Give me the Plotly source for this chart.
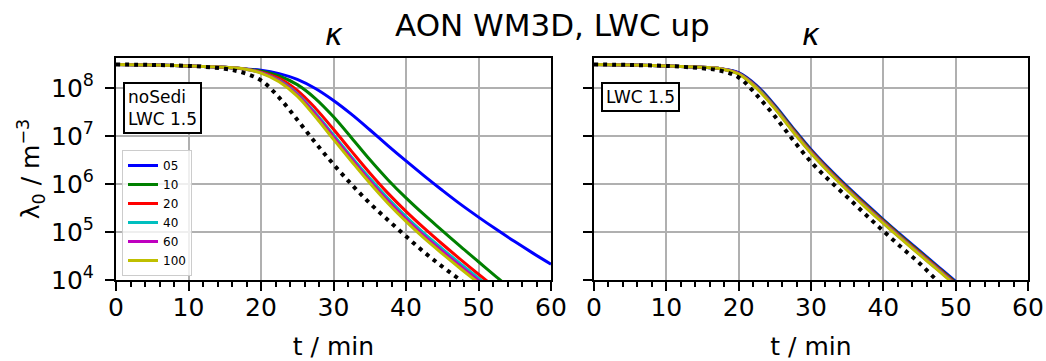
import numpy as np
import plotly.graph_objects as go

# ---------------- data (log10 of lambda_0 in m^-3) ----------------
T = [0, 5, 10, 15, 17.5, 20, 22.5, 25, 27.5, 30, 32.5, 35, 37.5, 40, 42.5, 45, 47.5, 50, 52.5, 55, 57.5, 60]

series_names = ["05", "10", "20", "40", "60", "100"]
series_colors = ["#0000ff", "#008000", "#ff0000", "#00bfbf", "#bf00bf", "#bfbf00"]

left_05 = [8.49, 8.48, 8.46, 8.43, 8.40, 8.37, 8.30, 8.18, 7.99, 7.74, 7.45, 7.13, 6.80, 6.48, 6.17, 5.87, 5.58, 5.31, 5.05, 4.80, 4.56, 4.33]
left_10 = [8.49, 8.48, 8.46, 8.43, 8.40, 8.35, 8.25, 8.07, 7.78, 7.40, 6.96, 6.51, 6.09, 5.71, 5.36, 5.03, 4.70, 4.38, 4.06, 3.75]
left_20 = [8.49, 8.48, 8.46, 8.43, 8.40, 8.33, 8.20, 7.95, 7.58, 7.14, 6.68, 6.23, 5.81, 5.43, 5.08, 4.75, 4.43, 4.12, 3.82]
left_40 = [8.49, 8.48, 8.46, 8.43, 8.40, 8.32, 8.16, 7.88, 7.48, 7.02, 6.56, 6.12, 5.70, 5.32, 4.97, 4.65, 4.34, 4.04, 3.75]
left_60 = [8.49, 8.48, 8.46, 8.43, 8.40, 8.32, 8.15, 7.86, 7.45, 6.98, 6.52, 6.07, 5.65, 5.27, 4.92, 4.60, 4.29, 3.99, 3.70]
left_100 = [8.49, 8.48, 8.46, 8.43, 8.40, 8.31, 8.13, 7.83, 7.40, 6.93, 6.47, 6.02, 5.60, 5.22, 4.87, 4.55, 4.24, 3.94, 3.65]
left_ref = [8.49, 8.48, 8.46, 8.40, 8.32, 8.16, 7.80, 7.34, 6.86, 6.41, 5.99, 5.60, 5.25, 4.91, 4.58, 4.28, 4.00, 3.73]

right_05 = [8.49, 8.48, 8.46, 8.43, 8.40, 8.32, 8.05, 7.64, 7.17, 6.72, 6.32, 5.95, 5.60, 5.26, 4.93, 4.61, 4.29, 3.97, 3.66]
right_10 = [8.49, 8.48, 8.46, 8.43, 8.40, 8.31, 8.03, 7.62, 7.15, 6.70, 6.30, 5.93, 5.58, 5.24, 4.91, 4.59, 4.27, 3.95, 3.64]
right_20 = [8.49, 8.48, 8.46, 8.43, 8.40, 8.30, 8.02, 7.60, 7.13, 6.68, 6.28, 5.91, 5.56, 5.22, 4.89, 4.57, 4.25, 3.93, 3.62]
right_40 = [8.49, 8.48, 8.46, 8.43, 8.40, 8.30, 8.01, 7.59, 7.11, 6.66, 6.26, 5.89, 5.54, 5.20, 4.87, 4.55, 4.23, 3.91, 3.60]
right_60 = [8.49, 8.48, 8.46, 8.43, 8.40, 8.30, 8.00, 7.58, 7.10, 6.65, 6.25, 5.88, 5.53, 5.19, 4.86, 4.54, 4.22, 3.90, 3.59]
right_100 = [8.49, 8.48, 8.46, 8.43, 8.40, 8.29, 7.99, 7.57, 7.09, 6.64, 6.24, 5.87, 5.52, 5.18, 4.85, 4.53, 4.21, 3.89, 3.58]
right_ref = [8.49, 8.48, 8.46, 8.41, 8.36, 8.22, 7.85, 7.41, 6.92, 6.46, 6.08, 5.73, 5.37, 5.02, 4.68, 4.35, 3.98, 3.65]

left_series = [left_05, left_10, left_20, left_40, left_60, left_100]
right_series = [right_05, right_10, right_20, right_40, right_60, right_100]

y_tick_exps = [4, 5, 6, 7, 8]
y_tick_text = ["10<sup>%d</sup>" % e for e in y_tick_exps]
x_ticks = [0, 10, 20, 30, 40, 50, 60]

FONT = "DejaVu Sans"

# ---------------- figure ----------------
fig = go.Figure()

def add_panel(series, ref, xa, ya, legend):
    for name, col, vals in zip(series_names, series_colors, series):
        fig.add_trace(go.Scatter(
            x=T[:len(vals)], y=np.power(10.0, vals), mode="lines", name=name,
            line=dict(color=col, width=3, shape="spline", smoothing=1.0),
            xaxis=xa, yaxis=ya, showlegend=legend))
    fig.add_trace(go.Scatter(
        x=T[:len(ref)], y=np.power(10.0, ref), mode="lines", name="ref",
        line=dict(color="black", width=4, dash="4px,5px", shape="spline", smoothing=1.0),
        xaxis=xa, yaxis=ya, showlegend=False))

add_panel(left_series, left_ref, "x", "y", True)
add_panel(right_series, right_ref, "x2", "y2", False)

W, H = 1046, 361
L, R, TOP, B = 116, 18, 58, 81
PW = W - L - R
PH = H - TOP - B
dom1 = [0, (551 - L) / PW]
dom2 = [(594 - L) / PW, 1]

axis_common = dict(
    showline=True, linecolor="black", linewidth=2, mirror=True,
    showgrid=True, gridcolor="#b0b0b0", gridwidth=1.6,
    ticks="outside", ticklen=9, tickwidth=2, tickcolor="black",
    zeroline=False, automargin=False,
    tickfont=dict(family=FONT, size=25, color="black"),
)

xcommon = dict(axis_common, range=[0, 60], tickvals=x_ticks,
               minor=dict(dtick=2, tick0=0, ticks="outside", ticklen=5, tickwidth=1.5,
                          tickcolor="black", showgrid=False),
               title=dict(text="t / min", font=dict(family=FONT, size=25, color="black"), standoff=16),
               ticklabelstandoff=-5)

ycommon = dict(axis_common, type="log", range=[4, 8.625],
               tickvals=[10.0 ** e for e in y_tick_exps], ticktext=y_tick_text,
               ticklabelstandoff=6)

fig.update_layout(
    width=W, height=H,
    margin=dict(l=L, r=R, t=TOP, b=B, pad=0, autoexpand=False),
    paper_bgcolor="white", plot_bgcolor="white",
    font=dict(family=FONT, color="black"),
    xaxis=dict(xcommon, domain=dom1, anchor="y"),
    yaxis=dict(ycommon, domain=[0, 1], anchor="x",
               title=dict(text="λ<sub>0</sub> / m<sup>−3</sup>",
                          font=dict(family=FONT, size=25, color="black"), standoff=4)),
    xaxis2=dict(xcommon, domain=dom2, anchor="y2"),
    yaxis2=dict(ycommon, domain=[0, 1], anchor="x2", showticklabels=False),
    legend=dict(x=(122 - L) / PW, y=(H - B - 150) / PH, xanchor="left", yanchor="top",
                xref="paper", yref="paper",
                bgcolor="rgba(255,255,255,0.8)", bordercolor="#cccccc", borderwidth=1,
                font=dict(family=FONT, size=12, color="black"), itemwidth=30,
                tracegroupgap=0),
    showlegend=True,
)

def py(ypix):
    return (H - B - ypix) / PH

annotations = [
    dict(text="AON WM3D, LWC up", x=(552 - L) / PW, y=py(25), xref="paper", yref="paper",
         xanchor="center", yanchor="middle", showarrow=False,
         font=dict(family=FONT, size=31, color="black")),
    dict(text="<i>κ</i>", x=sum(dom1) / 2, y=py(35), xref="paper", yref="paper",
         xanchor="center", yanchor="middle", showarrow=False,
         font=dict(family=FONT, size=30, color="black")),
    dict(text="<i>κ</i>", x=sum(dom2) / 2, y=py(35), xref="paper", yref="paper",
         xanchor="center", yanchor="middle", showarrow=False,
         font=dict(family=FONT, size=30, color="black")),
    dict(text="noSedi<br>LWC 1.5", x=(123 - L) / PW, y=py(82), xref="paper", yref="paper",
         xanchor="left", yanchor="top", align="left", showarrow=False,
         bgcolor="white", bordercolor="black", borderwidth=2, borderpad=3,
         font=dict(family=FONT, size=17, color="black")),
    dict(text="LWC 1.5", x=dom2[0] + (601 - 594) / PW, y=py(82), xref="paper", yref="paper",
         xanchor="left", yanchor="top", align="left", showarrow=False,
         bgcolor="white", bordercolor="black", borderwidth=2, borderpad=3,
         font=dict(family=FONT, size=17, color="black")),
]
fig.update_layout(annotations=annotations)

fig.write_html("out.html")
